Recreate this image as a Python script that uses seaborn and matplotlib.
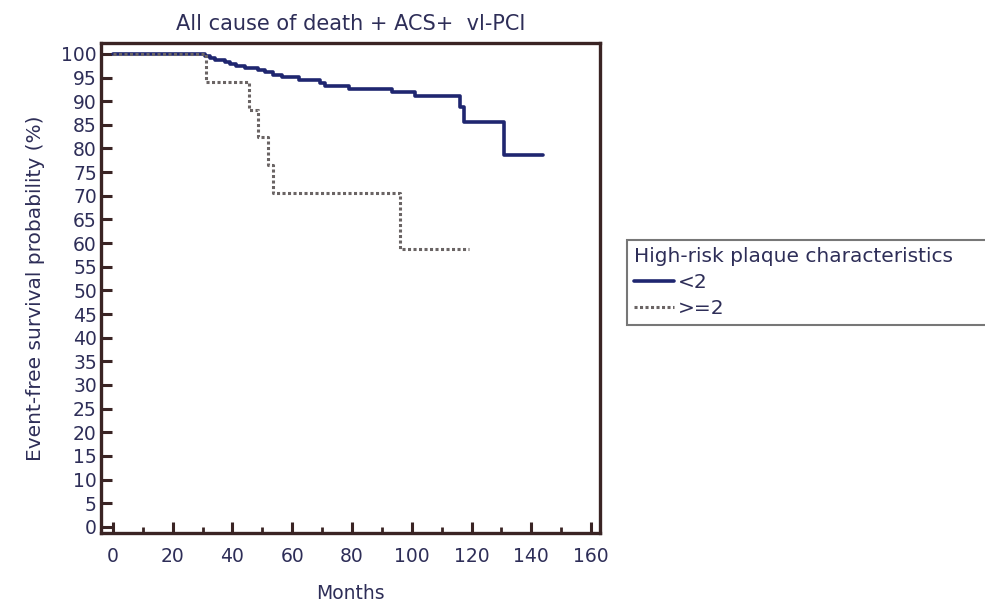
import numpy as np
import pandas as pd
import matplotlib
matplotlib.use("Agg")
import matplotlib.pyplot as plt
import seaborn as sns
from matplotlib.ticker import MultipleLocator

# step points (month where the curve drops, survival % after the drop)
low_months = [0, 30.7, 32.4, 34.1, 37.4, 39.1, 41.3, 44.1, 48.6, 50.8, 53.7, 56.5,
              62.1, 69.4, 71.0, 78.9, 93.4, 101.0, 116.3, 117.6, 130.8, 143.9]
low_surv = [100, 99.5, 99.1, 98.7, 98.3, 97.9, 97.5, 97.0, 96.6, 96.1, 95.6, 95.2,
            94.4, 93.8, 93.3, 92.6, 92.0, 91.2, 88.7, 85.6, 78.7, 78.7]

high_months = [0, 31.0, 45.4, 48.7, 52.0, 53.5, 96.0, 119.0]
high_surv = [100, 94.1, 88.2, 82.4, 76.5, 70.6, 58.8, 58.8]

groups = ["<2", ">=2"]
title = "All cause of death + ACS+  vl-PCI"
legend_title = "High-risk plaque characteristics"

df = pd.concat([
    pd.DataFrame({"Months": low_months, "surv": low_surv, "group": groups[0]}),
    pd.DataFrame({"Months": high_months, "surv": high_surv, "group": groups[1]}),
])

sns.set_style("white")
plt.rcParams["font.family"] = ["DejaVu Sans"]

text_col = "#2e2e58"
frame_col = "#3a2424"
blue = "#1f2670"
grey = "#6a6464"

fig = plt.figure(figsize=(9.85, 6.01), dpi=100)
ax = fig.add_axes([101 / 985, 68 / 601, 499 / 985, 490 / 601])

sns.lineplot(data=df[df.group == groups[0]], x="Months", y="surv", ax=ax,
             drawstyle="steps-post", color=blue, lw=2.6, estimator=None,
             label=groups[0])
sns.lineplot(data=df[df.group == groups[1]], x="Months", y="surv", ax=ax,
             drawstyle="steps-post", color=grey, lw=2.2, ls=(0, (1, 0.8)),
             estimator=None, label=groups[1])

ax.set_xlim(-4, 163)
ax.set_ylim(-1.3, 102.3)
ax.xaxis.set_major_locator(MultipleLocator(20))
ax.xaxis.set_minor_locator(MultipleLocator(10))
ax.yaxis.set_major_locator(MultipleLocator(5))

for s in ax.spines.values():
    s.set_color(frame_col)
    s.set_linewidth(2.4)

ax.tick_params(axis="both", which="major", direction="in", length=8, width=2.2,
               color=frame_col, labelsize=13.5, labelcolor=text_col, pad=4)
ax.tick_params(axis="x", which="minor", direction="in", length=4, width=2,
               color=frame_col, bottom=True)
ax.tick_params(axis="y", which="major", left=True, pad=3)
ax.tick_params(axis="x", which="major", bottom=True, pad=10)

ax.set_xlabel("Months", fontsize=13.5, color=text_col, labelpad=13)
ax.set_ylabel("Event-free survival probability (%)", fontsize=14.5,
              color=text_col, labelpad=12)
ax.set_title(title, fontsize=15, color=text_col, pad=9)

leg = ax.legend(title=legend_title, loc="upper left",
                bbox_to_anchor=(627 / 985, 1 - 240 / 601, 360 / 985, 0),
                bbox_transform=fig.transFigure, mode="expand", frameon=True,
                fancybox=False, fontsize=14.5, title_fontsize=14.5,
                handlelength=2.0, handletextpad=0.2, borderpad=0.35,
                labelspacing=0.35, borderaxespad=0, alignment="left")
leg.get_frame().set_edgecolor("#555555")
leg.get_frame().set_linewidth(1.5)
leg.get_title().set_color(text_col)
for t in leg.get_texts():
    t.set_color(text_col)

fig.savefig("out.png", dpi=100)
